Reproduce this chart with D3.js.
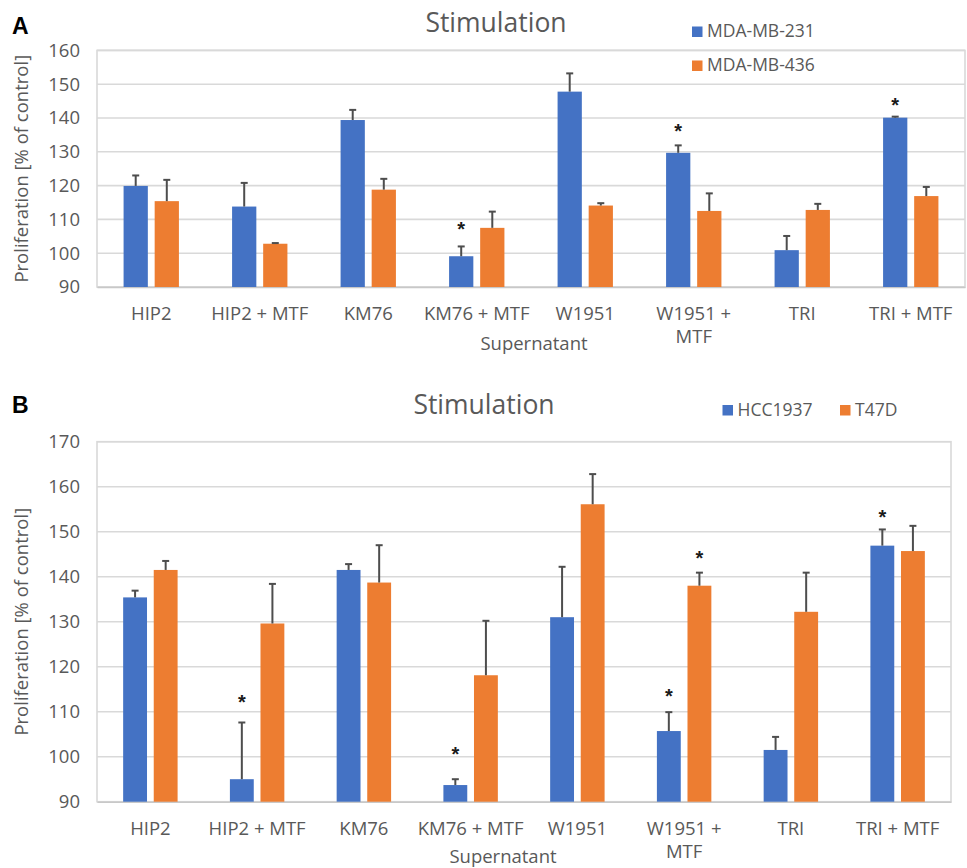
<!DOCTYPE html>
<html>
<head>
<meta charset="utf-8">
<script src="https://cdn.jsdelivr.net/npm/d3@7/dist/d3.min.js"></script>
<style>
  html, body { margin: 0; padding: 0; background: #ffffff; }
  svg { display: block; font-family: "Open Sans", "Noto Sans", sans-serif; }
</style>
</head>
<body>
<svg id="chart" width="967" height="868"></svg>
<script>
// Supernatant conditions (shared by both panels); "\n" marks a wrapped label
const categories = ["HIP2", "HIP2 + MTF", "KM76", "KM76 + MTF", "W1951", "W1951 + MTF", "TRI", "TRI + MTF"];
const categoryLabels = ["HIP2", "HIP2 + MTF", "KM76", "KM76 + MTF", "W1951", "W1951 +\nMTF", "TRI", "TRI + MTF"];

// Panel A: MDA-MB-231 / MDA-MB-436 proliferation (% of control) and SD
const mda231 = [119.9, 113.8, 139.4, 99.1, 147.8, 129.7, 100.9, 140.1];
const mda231Err = [3.1, 7.0, 3.0, 2.9, 5.4, 2.2, 4.2, 0.3];
const mda436 = [115.4, 102.8, 118.8, 107.5, 114.1, 112.5, 112.8, 116.9];
const mda436Err = [6.3, 0.2, 3.2, 4.8, 0.7, 5.2, 1.8, 2.7];
// significance markers: [series index, category index, level]
const starsA = [[0, 3, 108.3], [0, 5, 137.4], [0, 7, 145.1]];
const ticksA = [90, 100, 110, 120, 130, 140, 150, 160];

// Panel B: HCC1937 / T47D proliferation (% of control) and SD
const hcc1937 = [135.4, 95.0, 141.5, 93.7, 131.0, 105.7, 101.5, 146.9];
const hcc1937Err = [1.5, 12.6, 1.3, 1.3, 11.2, 4.2, 2.9, 3.6];
const t47d = [141.5, 129.6, 138.7, 118.1, 156.1, 138.0, 132.2, 145.7];
const t47dErr = [2.0, 8.8, 8.3, 12.1, 6.7, 2.9, 8.7, 5.6];
const starsB = [[0, 1, 113.0], [0, 3, 101.5], [0, 5, 114.4], [1, 5, 145.0], [0, 7, 154.1]];
const ticksB = [90, 100, 110, 120, 130, 140, 150, 160, 170];

const colors = ["#4472C4", "#ED7D31"];
const textColor = "#595959";
const gridColor = "#d9d9d9";

const svg = d3.select("#chart");

function drawPanel(cfg) {
  const g = svg.append("g");
  const x0 = d3.scaleBand().domain(categories).range([cfg.left, cfg.right]).padding(0);
  const bw = x0.bandwidth();
  const x1 = d3.scaleBand().domain([0, 1])
    .range([bw * 0.245, bw * 0.755]).paddingInner(0.22).paddingOuter(0);
  const y = d3.scaleLinear().domain(cfg.domain).range([cfg.bottom, cfg.top]);

  // gridlines
  g.append("g").selectAll("line").data(cfg.ticks).join("line")
    .attr("x1", cfg.left).attr("x2", cfg.right)
    .attr("y1", d => y(d)).attr("y2", d => y(d))
    .attr("stroke", gridColor).attr("stroke-width", 1.6);

  // plot border
  g.append("rect")
    .attr("x", cfg.left).attr("y", cfg.top)
    .attr("width", cfg.right - cfg.left).attr("height", cfg.bottom - cfg.top)
    .attr("fill", "none").attr("stroke", gridColor).attr("stroke-width", 1.6);

  // y axis tick labels
  const yAxis = d3.axisLeft(y).tickValues(cfg.ticks).tickSize(0).tickPadding(17);
  const ya = g.append("g").attr("transform", `translate(${cfg.left},0)`).call(yAxis);
  ya.select(".domain").remove();
  ya.selectAll("text").attr("fill", textColor).attr("font-size", 18.5)
    .attr("font-family", "'Open Sans', sans-serif");

  // x axis category labels
  const xAxis = d3.axisBottom(x0).tickSize(0).tickPadding(0)
    .tickFormat(() => "");
  const xa = g.append("g").attr("transform", `translate(0,${cfg.bottom})`).call(xAxis);
  xa.select(".domain").attr("stroke", "#c8c8c8").attr("stroke-width", 1.6);
  xa.selectAll(".tick").each(function (d, i) {
    const t = d3.select(this).select("text")
      .attr("fill", textColor).attr("font-size", 18.5)
      .attr("font-family", "'Open Sans', sans-serif")
      .attr("y", null).attr("dy", null);
    categoryLabels[i].split("\n").forEach((line, k) => {
      t.append("tspan").attr("x", 0).attr("y", cfg.catBaseline - cfg.bottom + k * 23).text(line);
    });
  });

  // bars
  const groups = g.append("g").selectAll("g").data(categories).join("g")
    .attr("transform", d => `translate(${x0(d)},0)`);
  const series = cfg.series;
  groups.selectAll("rect").data((d, i) => series.map((s, k) => ({ k, v: s.values[i] })))
    .join("rect")
    .attr("x", d => x1(d.k)).attr("width", x1.bandwidth())
    .attr("y", d => y(d.v)).attr("height", d => y(cfg.domain[0]) - y(d.v))
    .attr("fill", d => colors[d.k]);

  // error bars (upper only)
  const errData = groups.selectAll("g.err")
    .data((d, i) => series.map((s, k) => ({ k, v: s.values[i], e: s.errors[i] })))
    .join("g").attr("class", "err");
  errData.append("line")
    .attr("x1", d => x1(d.k) + x1.bandwidth() / 2).attr("x2", d => x1(d.k) + x1.bandwidth() / 2)
    .attr("y1", d => y(d.v)).attr("y2", d => y(d.v + d.e))
    .attr("stroke", "#4d4d4d").attr("stroke-width", 2);
  errData.append("line")
    .attr("x1", d => x1(d.k) + x1.bandwidth() / 2 - 3.5).attr("x2", d => x1(d.k) + x1.bandwidth() / 2 + 3.5)
    .attr("y1", d => y(d.v + d.e)).attr("y2", d => y(d.v + d.e))
    .attr("stroke", "#4d4d4d").attr("stroke-width", 2);

  // significance stars
  g.append("g").selectAll("text").data(cfg.stars).join("text")
    .attr("x", d => x0(categories[d[1]]) + x1(d[0]) + x1.bandwidth() / 2)
    .attr("y", d => y(d[2]) + 11)
    .attr("text-anchor", "middle").attr("font-size", 20).attr("font-weight", "bold")
    .attr("font-family", "'Liberation Sans', sans-serif").attr("fill", "#1a1a1a")
    .text("*");

  // title
  g.append("text").attr("x", cfg.titleX).attr("y", cfg.titleY)
    .attr("text-anchor", "middle").attr("font-size", 26.5).attr("fill", textColor)
    .text("Stimulation");

  // axis titles
  g.append("text")
    .attr("transform", `translate(${cfg.yTitleX},${(cfg.top + cfg.bottom) / 2}) rotate(-90)`)
    .attr("text-anchor", "middle").attr("font-size", 18.5).attr("fill", textColor)
    .text("Proliferation [% of control]");
  g.append("text").attr("x", cfg.xTitleX).attr("y", cfg.xTitleY)
    .attr("text-anchor", "middle").attr("font-size", 18.5).attr("fill", textColor)
    .text("Supernatant");

  // panel letter
  g.append("text").attr("x", 12).attr("y", cfg.letterY)
    .attr("font-size", 23).attr("font-weight", "bold")
    .attr("font-family", "'Liberation Sans', Arial, sans-serif").attr("fill", "#000")
    .text(cfg.letter);

  // legend
  const lg = g.append("g");
  cfg.legend.forEach((item, k) => {
    lg.append("rect").attr("x", item.x).attr("y", item.y - 10.5)
      .attr("width", 10.5).attr("height", 10.5).attr("fill", colors[k]);
    lg.append("text").attr("x", item.x + 15).attr("y", item.y)
      .attr("font-size", 17.5).attr("fill", textColor).text(series[k].name);
  });
}

drawPanel({
  letter: "A", letterY: 34,
  left: 97, right: 965, top: 50.4, bottom: 287,
  domain: [90, 160], ticks: ticksA,
  series: [
    { name: "MDA-MB-231", values: mda231, errors: mda231Err },
    { name: "MDA-MB-436", values: mda436, errors: mda436Err }
  ],
  stars: starsA,
  catBaseline: 320, titleX: 496, titleY: 32,
  yTitleX: 28, xTitleX: 534, xTitleY: 350,
  legend: [{ x: 692, y: 37 }, { x: 692, y: 71 }]
});

drawPanel({
  letter: "B", letterY: 413,
  left: 97, right: 951, top: 441.7, bottom: 801.7,
  domain: [90, 170], ticks: ticksB,
  series: [
    { name: "HCC1937", values: hcc1937, errors: hcc1937Err },
    { name: "T47D", values: t47d, errors: t47dErr }
  ],
  stars: starsB,
  catBaseline: 835, titleX: 484, titleY: 414,
  yTitleX: 28, xTitleX: 503, xTitleY: 863,
  legend: [{ x: 722.5, y: 415.5 }, { x: 840, y: 415.5 }]
});
</script>
</body>
</html>
